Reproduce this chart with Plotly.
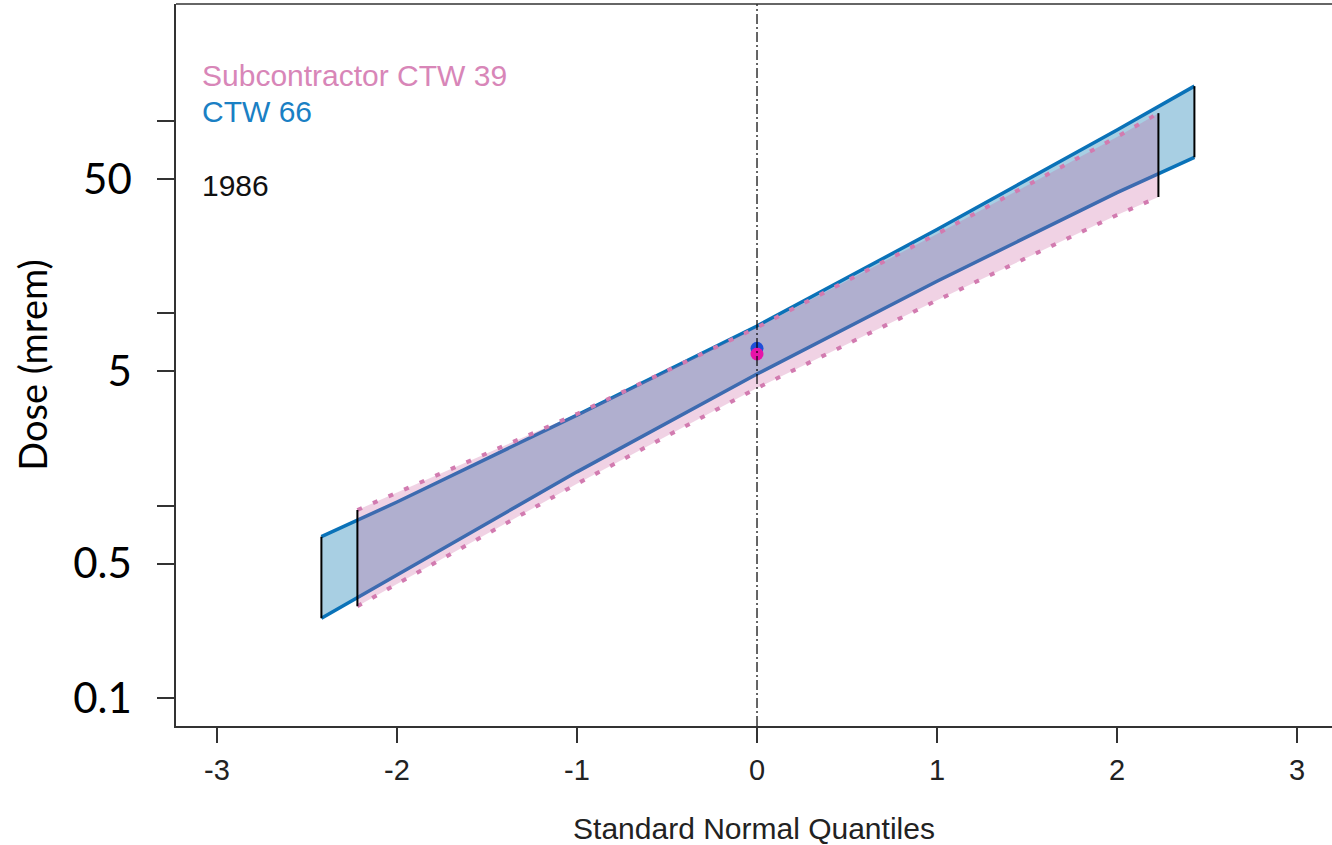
import plotly.graph_objects as go

# ---- data ----
# CTW 66 (blue band): standard normal quantile vs dose (mrem)
z_blue = [-2.42, -2.0, -1.0, 0.0, 1.0, 2.0, 2.43]
blue_upper = [0.69, 1.045, 2.96, 8.6, 27.3, 89.9, 152.0]
blue_lower = [0.26, 0.436, 1.50, 4.84, 14.7, 42.5, 64.8]

# Subcontractor CTW 39 (pink band)
z_pink = [-2.22, -2.0, -1.0, 0.0, 1.0, 2.0, 2.23]
pink_upper = [0.95, 1.17, 3.0, 8.45, 25.9, 82.7, 110.0]
pink_lower = [0.30, 0.392, 1.30, 4.09, 11.7, 32.5, 40.3]

# medians at z = 0
median_z = [0.0]
blue_median = [6.58]
pink_median = [6.15]

y_tickvals = [0.1, 0.5, 1, 5, 10, 50, 100]
y_ticktext = ["0.1", "0.5", "", "5", "", "50", ""]
x_tickvals = [-3, -2, -1, 0, 1, 2, 3]
x_ticktext = ["-3", "-2", "-1", "0", "1", "2", "3"]

legend_lines = ["Subcontractor CTW 39", "CTW 66", "1986"]

BLUE_FILL = "rgb(168,207,227)"
BLUE_LINE = "#0a72b8"
PINK_FILL = "rgba(199,88,155,0.27)"
PINK_LINE = "#d27bb0"

fig = go.Figure()

# blue band fill
fig.add_trace(go.Scatter(
    x=z_blue + z_blue[::-1], y=blue_upper + blue_lower[::-1],
    fill="toself", fillcolor=BLUE_FILL, mode="none", hoverinfo="skip",
    showlegend=False))
# blue band edges
for yy in (blue_upper, blue_lower):
    fig.add_trace(go.Scatter(x=z_blue, y=yy, mode="lines",
                             line=dict(color=BLUE_LINE, width=3.5),
                             showlegend=False))
# pink band fill
fig.add_trace(go.Scatter(
    x=z_pink + z_pink[::-1], y=pink_upper + pink_lower[::-1],
    fill="toself", fillcolor=PINK_FILL, mode="none", hoverinfo="skip",
    showlegend=False))
# pink dotted edges
for yy in (pink_upper, pink_lower):
    fig.add_trace(go.Scatter(x=z_pink, y=yy, mode="lines",
                             line=dict(color=PINK_LINE, width=4, dash="5px,12px"),
                             showlegend=False))
# vertical end lines of both bands
for zz, lo, hi in [(z_blue[0], blue_lower[0], blue_upper[0]),
                   (z_blue[-1], blue_lower[-1], blue_upper[-1]),
                   (z_pink[0], pink_lower[0], pink_upper[0]),
                   (z_pink[-1], pink_lower[-1], pink_upper[-1])]:
    fig.add_trace(go.Scatter(x=[zz, zz], y=[lo, hi], mode="lines",
                             line=dict(color="black", width=2), showlegend=False))

# vertical dash-dot reference line at z = 0
fig.add_shape(type="line", xref="x", yref="paper", x0=0, x1=0, y0=0, y1=1,
              line=dict(color="black", width=1.2, dash="10px,3px,2px,3px"))

# medians
fig.add_trace(go.Scatter(x=median_z, y=blue_median, mode="markers",
                         marker=dict(color="#1f4fd8", size=13), showlegend=False))
fig.add_trace(go.Scatter(x=median_z, y=pink_median, mode="markers",
                         marker=dict(color="#e614a8", size=13), showlegend=False))

# top frame line
fig.add_shape(type="line", xref="paper", yref="paper", x0=0, x1=1, y0=1, y1=1,
              line=dict(color="#333333", width=1.5))

# legend-style text
legend_colors = ["#d886b8", "#1a80c4", "#111111"]
legend_y = [0.9003, 0.8518, 0.7493]
for txt, col, yy in zip(legend_lines, legend_colors, legend_y):
    fig.add_annotation(text=txt, xref="paper", yref="paper", x=0.0208, y=yy,
                       xanchor="left", yanchor="middle", showarrow=False,
                       font=dict(family="Liberation Sans, Arial", size=30, color=col))

fig.update_xaxes(
    type="linear", range=[-3.2278, 3.1944],
    tickvals=x_tickvals, ticktext=x_ticktext,
    showgrid=False, zeroline=False,
    showline=True, linecolor="#333333", linewidth=1.5,
    ticks="outside", ticklen=15, tickwidth=1.5, tickcolor="#333333",
    tickfont=dict(family="Liberation Sans, Arial", size=29, color="#222222"),
    ticklabelstandoff=2,
    title=dict(text="Standard Normal Quantiles", standoff=34,
               font=dict(family="Liberation Sans, Arial", size=30, color="#222222")),
)
fig.update_yaxes(
    type="log", range=[-1.1456, 2.609],
    tickvals=y_tickvals, ticktext=y_ticktext,
    showgrid=False, zeroline=False,
    showline=True, linecolor="#333333", linewidth=1.5,
    ticks="outside", ticklen=17, tickwidth=1.5, tickcolor="#333333",
    tickfont=dict(family="Lato, Carlito, sans-serif", size=42, color="black"),
    ticklabelstandoff=17,
    title=dict(text="Dose (mrem)", standoff=14,
               font=dict(family="Lato, Carlito, sans-serif", size=38, color="black")),
)

fig.update_layout(
    width=1332, height=845,
    margin=dict(l=176, r=0, t=4, b=119, autoexpand=False),
    plot_bgcolor="white", paper_bgcolor="white",
    showlegend=False,
)

fig.write_html("out.html", config={"displayModeBar": False},
               post_script="document.body.style.margin='0';")
